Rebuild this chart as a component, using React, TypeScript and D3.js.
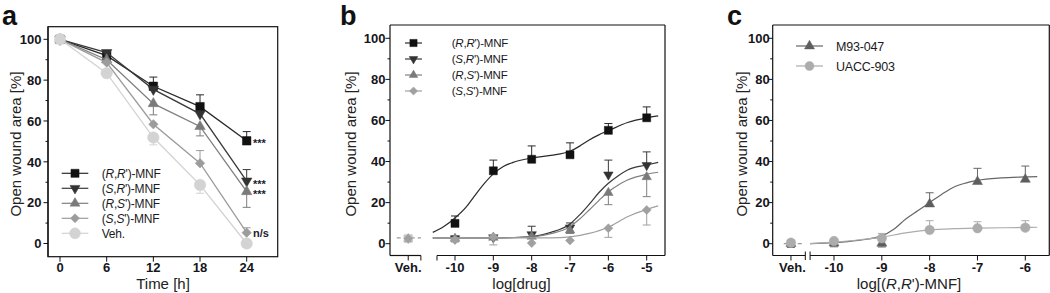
import React from 'react';
import * as d3 from 'd3';

const FONT = "'Liberation Sans', Arial, Helvetica, sans-serif";

// ---------- Panel a: time course ----------
const timeH = [0, 6, 12, 18, 24];
const aRR = [100, 92, 77, 67, 50.3];
const aRRerr = [0, 1, 4.5, 5.8, 4.5];
const aSR = [100, 93.5, 75.5, 63.5, 30.6];
const aSRerr = [0, 0, 0, 0, 5.6];
const aRS = [100, 90, 68.5, 57.3, 25.4];
const aRSerr = [0, 0, -5.5, -4.6, -7.7];
const aSS = [100, 88.6, 58.4, 39.3, 5.3];
const aSSerr = [0, 0, 0, 6.2, 2.4];
const aVeh = [100, 83.4, 51.9, 28.7, 0];
const aVehErr = [0, 0, -3.6, -4.1, 0];
const aSignif = ['***', '***', '***', 'n/s'];
const aSignifVals = [50.3, 30.6, 25.4, 5.3];
const aTicksX = [0, 6, 12, 18, 24];

// ---------- Panel b: dose response ----------
const bLog = [-10, -9, -8, -7, -6, -5];
const bRR = [9.9, 35.5, 41.1, 43.3, 55.2, 61.3];
const bRRerr = [3.6, 5.2, 6.5, 5.8, 3.3, 5.3];
const bSR = [2.5, 3, 4.5, 7.8, 33.6, 38.2];
const bSRerr = [1.2, 0, 4, 2.3, 7.1, 6.5];
const bRS = [2.5, 3, 3.5, 6.5, 24.8, 32.5];
const bRSerr = [-1.2, 0, 0, -1.5, -5.8, -9.6];
const bSS = [1.8, 3.4, 0.3, 1.6, 7.5, 16.4];
const bSSerr = [-1, -4, 0, 0, -4.4, -7.3];
const bVehVals = [2.5, 2.5, 2.5, 2.5];
const bVehErr = [1.5, 1.5, -1.5, -1.5];
const bFitRR: [number, number][] = [[-10.58, 5.5], [-10.3, 8.2], [-10, 12.5], [-9.7, 18], [-9.5, 23], [-9.25, 29], [-9, 34], [-8.75, 37.5], [-8.5, 39.5], [-8, 41.7], [-7.5, 43], [-7, 45], [-6.75, 47.5], [-6.5, 50.5], [-6.25, 53], [-6, 55], [-5.5, 59], [-5, 61.3], [-4.7, 62.2]];
const bFitSR: [number, number][] = [[-10.58, 2.8], [-9, 2.8], [-8, 3.5], [-7.5, 5.5], [-7, 9.6], [-6.75, 14], [-6.5, 19.2], [-6.25, 24.8], [-6, 29.4], [-5.75, 33], [-5.5, 35.9], [-5, 38.3], [-4.7, 39.6]];
const bFitRS: [number, number][] = [[-10.58, 2.8], [-9, 2.8], [-8, 3.3], [-7.5, 4.9], [-7, 8.3], [-6.75, 12], [-6.5, 16.4], [-6.25, 21], [-6, 25.3], [-5.75, 28.5], [-5.5, 31], [-5, 33.8], [-4.7, 34.8]];
const bFitSS: [number, number][] = [[-10.58, 2.8], [-7.5, 2.8], [-7, 3.3], [-6.5, 5], [-6, 8], [-5.5, 13.1], [-5, 16.7], [-4.7, 18.4]];
const bVehLine = 2.8;

// ---------- Panel c: cell lines ----------
const cLog = [-10, -9, -8, -7, -6];
const cM93 = [0.3, 0.2, 19.3, 30.2, 31.3];
const cM93err = [-1.8, -1.8, 5.5, 6.5, 6.5];
const cUACC = [1.3, 2.6, 6.7, 7.5, 7.8];
const cUACCerr = [0, 2.4, 4.5, 3.2, 3.4];
const cVehM93 = 0;
const cVehM93err = -1.8;
const cVehUACC = 0.5;
const cFitM93: [number, number][] = [[-10.5, 0], [-10, 0.5], [-9.5, 1.6], [-9, 3.8], [-8.75, 7], [-8.5, 12], [-8.25, 16], [-8, 20], [-7.75, 24], [-7.5, 27.5], [-7.25, 29.5], [-7, 30.8], [-6.5, 32], [-6, 32.5], [-5.75, 32.7]];
const cFitUACC: [number, number][] = [[-10.5, 0], [-10, 0.8], [-9.5, 1.8], [-9, 3.2], [-8.5, 5.3], [-8, 6.7], [-7.5, 7.3], [-7, 7.6], [-6, 7.9], [-5.75, 8]];

const yTicks = d3.range(0, 101, 10);

// ---------- helpers ----------
function symPath(shape: string, size: number): string {
  if (shape === 'square') return d3.symbol(d3.symbolSquare, size * size)() as string;
  if (shape === 'tri' || shape === 'triDown') return d3.symbol(d3.symbolTriangle, (Math.sqrt(3) / 4) * size * size)() as string;
  if (shape === 'diamond') return d3.symbol(d3.symbolSquare, (size * size) / 2)() as string;
  return d3.symbol(d3.symbolCircle, (Math.PI * size * size) / 4)() as string;
}

function Marker({ shape, x, y, size, fill }: any) {
  const rot = shape === 'triDown' ? 180 : shape === 'diamond' ? 45 : 0;
  return <path d={symPath(shape, size)} transform={`translate(${x},${y}) rotate(${rot})`} fill={fill} stroke={fill} strokeWidth={0.5} />;
}

function ErrBar({ x, y0, y1, color, cap = 8, dash }: any) {
  return (
    <g stroke={color} strokeWidth={1} strokeDasharray={dash}>
      <line x1={x} x2={x} y1={y0} y2={y1} />
      <line x1={x - cap / 2} x2={x + cap / 2} y1={y1} y2={y1} />
    </g>
  );
}

function RS({ a, b }: { a: string; b: string }) {
  return (
    <>
      (<tspan fontStyle="italic">{a}</tspan>,<tspan fontStyle="italic">{b}</tspan>')-MNF
    </>
  );
}

function YAxis({ x, y, top, bottom, labelGap }: any) {
  return (
    <g>
      <line x1={x} x2={x} y1={top} y2={bottom} stroke="#111" strokeWidth={1.2} />
      {yTicks.map((t) => {
        const major = t % 20 === 0;
        return (
          <g key={t}>
            <line x1={x - (major ? 4.5 : 2.5)} x2={x} y1={y(t)} y2={y(t)} stroke="#111" strokeWidth={1} />
            {major && (
              <text x={x - labelGap} y={y(t)} dy="0.36em" textAnchor="end" fontSize={13} fontWeight="bold" fill="#151520">
                {t}
              </text>
            )}
          </g>
        );
      })}
    </g>
  );
}

function LegendRow({ x0, x1, y, shape, size, color, lineColor, textX, fontSize, children }: any) {
  return (
    <g>
      <line x1={x0} x2={x1} y1={y} y2={y} stroke={lineColor} strokeWidth={1.2} />
      <Marker shape={shape} x={(x0 + x1) / 2} y={y} size={size} fill={color} />
      <text x={textX} y={y} dy="0.36em" fontSize={fontSize} fill="#1a1a22" letterSpacing={-0.2}>
        {children}
      </text>
    </g>
  );
}

const LETTER_SIZE = 27;
const LETTER_Y = 24.5;

// ---------- Panel A ----------
function PanelA() {
  const x = d3.scaleLinear().domain([0, 24]).range([60, 246.7]);
  const y = d3.scaleLinear().domain([0, 100]).range([243.5, 39.3]);
  const L = 48, R = 277.7, T = 26.7, B = 256.7;
  const series = [
    { vals: aRR, err: aRRerr, shape: 'square', size: 8.5, fill: '#111', line: '#2a2a2a' },
    { vals: aSR, err: aSRerr, shape: 'triDown', size: 10.5, fill: '#333', line: '#3a3a3a' },
    { vals: aRS, err: aRSerr, shape: 'tri', size: 10.5, fill: '#7a7a7a', line: '#7e7e7e' },
    { vals: aSS, err: aSSerr, shape: 'diamond', size: 9.5, fill: '#9c9c9c', line: '#9c9c9c' },
    { vals: aVeh, err: aVehErr, shape: 'circle', size: 11.5, fill: '#d3d3d3', line: '#d3d3d3' },
  ];
  const line = d3.line<number>().x((_, i) => x(timeH[i])).y((d) => y(d));
  const legend = [
    { label: <RS a="R" b="R" /> },
    { label: <RS a="S" b="R" /> },
    { label: <RS a="R" b="S" /> },
    { label: <RS a="S" b="S" /> },
    { label: <>Veh.</> },
  ];
  return (
    <g>
      <text x={2} y={LETTER_Y} fontSize={LETTER_SIZE} fontWeight="bold" fill="#111">a</text>
      <rect x={L} y={T} width={R - L} height={B - T} fill="none" stroke="#111" strokeWidth={1.2} />
      <YAxis x={L} y={y} top={T} bottom={B} labelGap={6.5} />
      {aTicksX.map((t) => (
        <g key={t}>
          <line x1={x(t)} x2={x(t)} y1={B} y2={B + 5} stroke="#111" strokeWidth={1} />
          <text x={x(t)} y={272} textAnchor="middle" fontSize={13} fontWeight="bold" fill="#151520">{t}</text>
        </g>
      ))}
      <text x={163} y={288.5} textAnchor="middle" fontSize={15} fill="#222">Time [h]</text>
      <text transform={`translate(21,144) rotate(-90)`} textAnchor="middle" fontSize={15} fill="#222">Open wound area [%]</text>
      {series.map((s, k) => (
        <g key={k}>
          <path d={line(s.vals) as string} fill="none" stroke={s.line} strokeWidth={1.3} />
          {s.vals.map((v, i) =>
            s.err[i] !== 0 ? <ErrBar key={i} x={x(timeH[i])} y0={y(v)} y1={y(v + s.err[i])} color={s.line} /> : null
          )}
          {s.vals.map((v, i) => (
            <Marker key={'m' + i} shape={s.shape} x={x(timeH[i])} y={y(v)} size={s.size} fill={s.fill} />
          ))}
        </g>
      ))}
      {aSignif.map((t, i) => (
        <text key={i} x={253} y={y(aSignifVals[i])} dy={t === 'n/s' ? '0.36em' : '0.6em'} fontSize={t === 'n/s' ? 11 : 11} fontWeight="bold" fill="#1c1c30">
          {t}
        </text>
      ))}
      {legend.map((l, i) => (
        <LegendRow key={i} x0={61.7} x1={88.3} y={173.3 + i * 15} shape={series[i].shape} size={series[i].size * 0.95}
          color={series[i].fill} lineColor={series[i].line} textX={101.7} fontSize={12}>
          {l.label}
        </LegendRow>
      ))}
    </g>
  );
}

// ---------- Panel B ----------
function PanelB() {
  const x = d3.scaleLinear().domain([-10, -5]).range([455, 646.7]);
  const y = d3.scaleLinear().domain([0, 100]).range([243.7, 38.3]);
  const L = 390, R = 665, T = 25, B = 255.5;
  const vehX = x(-11.22);
  const breakA = x(-10.89), breakB = x(-10.47);
  const fit = d3.line<[number, number]>().x((d) => x(d[0])).y((d) => y(d[1])).curve(d3.curveMonotoneX);
  const series = [
    { vals: bRR, err: bRRerr, fit: bFitRR, shape: 'square', size: 8, fill: '#111', line: '#2a2a2a' },
    { vals: bSR, err: bSRerr, fit: bFitSR, shape: 'triDown', size: 9.5, fill: '#333', line: '#3a3a3a' },
    { vals: bRS, err: bRSerr, fit: bFitRS, shape: 'tri', size: 9.5, fill: '#7a7a7a', line: '#808080' },
    { vals: bSS, err: bSSerr, fit: bFitSS, shape: 'diamond', size: 9, fill: '#a0a0a0', line: '#a0a0a0' },
  ];
  const vehColors = ['#c8c8c8', '#c8c8c8', '#c0c0c0', '#a0a0a0'];
  const labels = [<RS a="R" b="R" />, <RS a="S" b="R" />, <RS a="R" b="S" />, <RS a="S" b="S" />];
  const ticksX = [-10, -9, -8, -7, -6, -5];
  return (
    <g>
      <text x={340} y={LETTER_Y} fontSize={LETTER_SIZE} fontWeight="bold" fill="#111">b</text>
      <line x1={L} x2={R} y1={T} y2={T} stroke="#111" strokeWidth={1.2} />
      <line x1={R} x2={R} y1={T} y2={B} stroke="#111" strokeWidth={1.2} />
      <YAxis x={L} y={y} top={T} bottom={B} labelGap={4.5} />
      <line x1={L} x2={breakA} y1={B} y2={B} stroke="#111" strokeWidth={1.2} />
      <line x1={breakB} x2={R} y1={B} y2={B} stroke="#111" strokeWidth={1.2} />
      {[breakA, breakB, vehX].map((p, i) => (
        <line key={i} x1={p} x2={p} y1={B} y2={B + 5} stroke="#111" strokeWidth={1} />
      ))}
      <text x={vehX} y={271.5} textAnchor="middle" fontSize={13} fontWeight="bold" fill="#151520">Veh.</text>
      {ticksX.map((t) => (
        <g key={t}>
          <line x1={x(t)} x2={x(t)} y1={B} y2={B + 5} stroke="#111" strokeWidth={1} />
          <text x={x(t)} y={271.5} textAnchor="middle" fontSize={13} fontWeight="bold" fill="#151520">{t}</text>
        </g>
      ))}
      <text x={521.5} y={289} textAnchor="middle" fontSize={15} fill="#222">log[drug]</text>
      <text transform={`translate(356,144) rotate(-90)`} textAnchor="middle" fontSize={15} fill="#222">Open wound area [%]</text>
      <line x1={x(-11.52)} x2={breakA} y1={y(bVehLine)} y2={y(bVehLine)} stroke="#999" strokeWidth={1.2} strokeDasharray="4,3" />
      {series.map((s, k) => (
        <g key={k}>
          <path d={fit(s.fit) as string} fill="none" stroke={s.line} strokeWidth={1.2} />
          <ErrBar x={vehX} y0={y(bVehVals[k])} y1={y(bVehVals[k] + bVehErr[k])} color={vehColors[k]} cap={7} dash="1.5,1" />
          <Marker shape={s.shape} x={vehX} y={y(bVehVals[k])} size={s.size} fill={vehColors[k]} />
          {s.vals.map((v, i) =>
            s.err[i] !== 0 ? <ErrBar key={i} x={x(bLog[i])} y0={y(v)} y1={y(v + s.err[i])} color={s.line} /> : null
          )}
          {s.vals.map((v, i) => (
            <Marker key={'m' + i} shape={s.shape} x={x(bLog[i])} y={y(v)} size={s.size} fill={s.fill} />
          ))}
        </g>
      ))}
      {labels.map((l, i) => (
        <LegendRow key={i} x0={405} x1={422} y={43 + i * 16} shape={series[i].shape} size={series[i].size * 0.9}
          color={series[i].fill} lineColor={series[i].line} textX={451.7} fontSize={11.5}>
          {l}
        </LegendRow>
      ))}
    </g>
  );
}

// ---------- Panel C ----------
function PanelC() {
  const x = d3.scaleLinear().domain([-10, -6]).range([834, 1025.3]);
  const y = d3.scaleLinear().domain([0, 100]).range([243.7, 38.3]);
  const L = 772.7, R = 1049.3, T = 25, B = 255.5;
  const vehX = x(-10.9);
  const brA = x(-10.6), brB = x(-10.5);
  const fit = d3.line<[number, number]>().x((d) => x(d[0])).y((d) => y(d[1])).curve(d3.curveMonotoneX);
  const series = [
    { vals: cM93, err: cM93err, fit: cFitM93, veh: cVehM93, vehErr: cVehM93err, shape: 'tri', size: 10, fill: '#5e5e5e', line: '#666' },
    { vals: cUACC, err: cUACCerr, fit: cFitUACC, veh: cVehUACC, vehErr: 0, shape: 'circle', size: 9.5, fill: '#acacac', line: '#acacac' },
  ];
  const ticksX = [-10, -9, -8, -7, -6];
  return (
    <g>
      <text x={727} y={LETTER_Y} fontSize={LETTER_SIZE} fontWeight="bold" fill="#111">c</text>
      <line x1={L} x2={R} y1={T} y2={T} stroke="#111" strokeWidth={1.2} />
      <line x1={R} x2={R} y1={T} y2={B} stroke="#111" strokeWidth={1.2} />
      <YAxis x={L} y={y} top={T} bottom={B} labelGap={3} />
      <line x1={L} x2={brA} y1={B} y2={B} stroke="#111" strokeWidth={1.2} />
      <line x1={brB} x2={R} y1={B} y2={B} stroke="#111" strokeWidth={1.2} />
      {[brA, brB].map((p, i) => (
        <line key={i} x1={p} x2={p} y1={B - 4} y2={B + 4.5} stroke="#111" strokeWidth={1} />
      ))}
      <line x1={vehX} x2={vehX} y1={B} y2={B + 5} stroke="#111" strokeWidth={1} />
      <text x={vehX + 1.5} y={271.5} textAnchor="middle" fontSize={13} fontWeight="bold" fill="#151520">Veh.</text>
      {ticksX.map((t) => (
        <g key={t}>
          <line x1={x(t)} x2={x(t)} y1={B} y2={B + 5} stroke="#111" strokeWidth={1} />
          <text x={x(t)} y={271.5} textAnchor="middle" fontSize={13} fontWeight="bold" fill="#151520">{t}</text>
        </g>
      ))}
      <text x={909} y={289} textAnchor="middle" fontSize={15} fill="#222">
        log[(<tspan fontStyle="italic">R</tspan>,<tspan fontStyle="italic">R</tspan>')-MNF]
      </text>
      <text transform={`translate(746.5,144) rotate(-90)`} textAnchor="middle" fontSize={15} fill="#222">Open wound area [%]</text>
      <line x1={x(-11.05)} x2={brA - 1} y1={y(0)} y2={y(0)} stroke="#999" strokeWidth={1.2} strokeDasharray="4,3" />
      {series.map((s, k) => (
        <g key={k}>
          <path d={fit(s.fit) as string} fill="none" stroke={s.line} strokeWidth={1.2} />
          {s.vehErr !== 0 && <ErrBar x={vehX} y0={y(s.veh)} y1={y(s.veh + s.vehErr)} color={s.line} />}
          <Marker shape={s.shape} x={vehX} y={y(s.veh)} size={s.size} fill={s.fill} />
          {s.vals.map((v, i) =>
            s.err[i] !== 0 ? <ErrBar key={i} x={x(cLog[i])} y0={y(v)} y1={y(v + s.err[i])} color={s.line} /> : null
          )}
          {s.vals.map((v, i) => (
            <Marker key={'m' + i} shape={s.shape} x={x(cLog[i])} y={y(v)} size={s.size} fill={s.fill} />
          ))}
        </g>
      ))}
      <LegendRow x0={796} x1={823} y={46} shape="tri" size={10} color={series[0].fill} lineColor={series[0].line} textX={836} fontSize={12.5}>
        M93-047
      </LegendRow>
      <LegendRow x0={796} x1={823} y={66} shape="circle" size={9} color={series[1].fill} lineColor={series[1].line} textX={836} fontSize={12.5}>
        UACC-903
      </LegendRow>
    </g>
  );
}

export default function App() {
  return (
    <svg width={1050} height={293} viewBox="0 0 1050 293" fontFamily={FONT}
      style={{ position: 'absolute', left: 0, top: 0, background: '#fff' }}>
      <rect x={0} y={0} width={1050} height={293} fill="#fff" />
      <PanelA />
      <PanelB />
      <PanelC />
    </svg>
  );
}
